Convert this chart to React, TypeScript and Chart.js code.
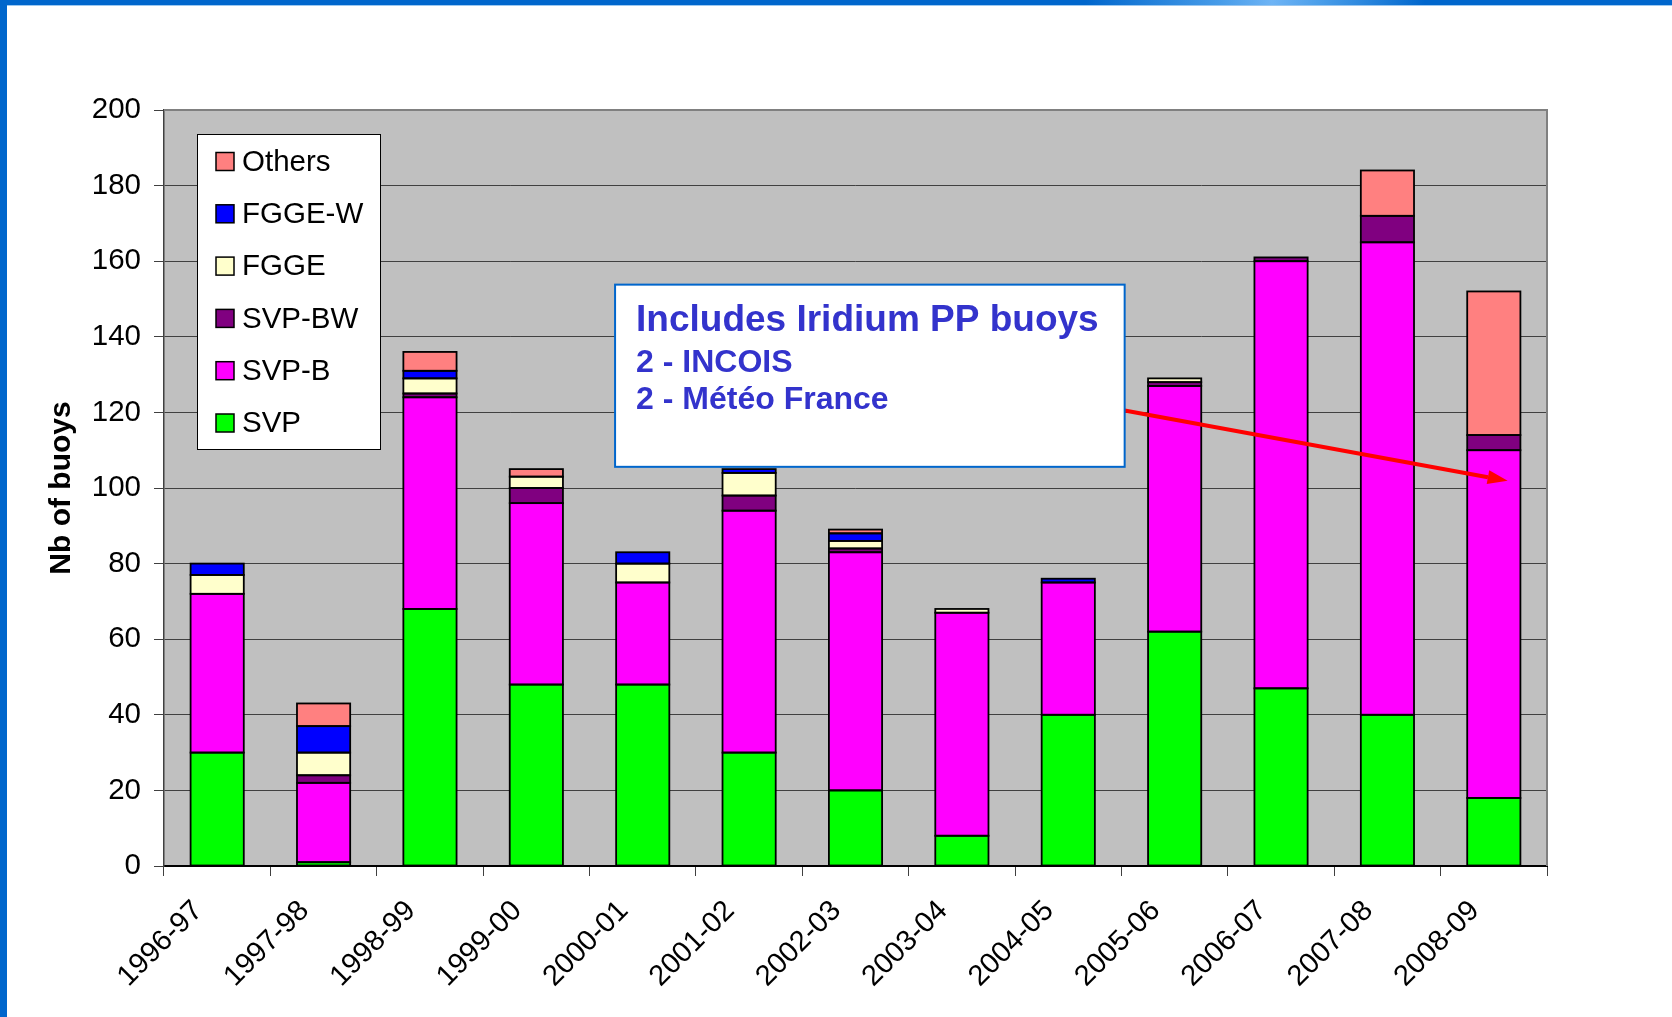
import React, { useEffect, useRef } from 'react';
import { Chart, registerables } from 'chart.js';

Chart.register(...registerables);

const categories = ['1996-97', '1997-98', '1998-99', '1999-00', '2000-01', '2001-02', '2002-03', '2003-04', '2004-05', '2005-06', '2006-07', '2007-08', '2008-09'];

const svp = [30, 1, 68, 48, 48, 30, 20, 8, 40, 62, 47, 40, 18];
const svpB = [42, 21, 56, 48, 27, 64, 63, 59, 35, 65, 113, 125, 92];
const svpBW = [0, 2, 1, 4, 0, 4, 1, 0, 0, 1, 1, 7, 4];
const fgge = [5, 6, 4, 3, 5, 6, 2, 1, 0, 1, 0, 0, 0];
const fggeW = [3, 7, 2, 0, 3, 1, 2, 0, 1, 0, 0, 0, 0];
const others = [0, 6, 5, 2, 0, 0, 1, 0, 0, 0, 0, 12, 38];

const seriesNames = ['SVP', 'SVP-B', 'SVP-BW', 'FGGE', 'FGGE-W', 'Others'];
const seriesValues = [svp, svpB, svpBW, fgge, fggeW, others];
const seriesColors = ['#00FF00', '#FF00FF', '#800080', '#FFFFCC', '#0000FF', '#FF8080'];

const yMin = 0;
const yMax = 200;
const yStep = 20;
const yTitle = 'Nb of buoys';

const noteLines = ['Includes Iridium PP buoys', '2 - INCOIS', '2 - Météo France'];
// annotation box and arrow expressed in data coordinates (category index, value)
const noteBox = { x0: 3.74, x1: 8.53, yTop: 153.8, yBottom: 105.6 };
const arrowFrom = { x: 8.53, y: 120.5 };
const arrowTo = { x: 12.13, y: 101.9 };

const FONT = '"Liberation Sans", Arial, Helvetica, sans-serif';

const decorPlugin = {
  id: 'decor',
  beforeDraw(chart: any) {
    const { ctx, chartArea: a } = chart;
    ctx.save();
    ctx.fillStyle = '#C0C0C0';
    ctx.fillRect(a.left, a.top, a.right - a.left, a.bottom - a.top);
    ctx.restore();
  },
  beforeDatasetsDraw(chart: any) {
    const { ctx, chartArea: a } = chart;
    ctx.save();
    ctx.strokeStyle = '#808080';
    ctx.lineWidth = 2;
    ctx.beginPath();
    ctx.moveTo(a.left, a.top);
    ctx.lineTo(a.right, a.top);
    ctx.lineTo(a.right, a.bottom);
    ctx.stroke();
    ctx.restore();
  },
  afterDatasetsDraw(chart: any) {
    // uniform black outlines around every bar segment
    const { ctx } = chart;
    ctx.save();
    ctx.strokeStyle = '#000000';
    ctx.lineWidth = 1.8;
    chart.data.datasets.forEach((ds: any, di: number) => {
      const meta = chart.getDatasetMeta(di);
      meta.data.forEach((el: any, i: number) => {
        if (ds.data[i] == null) return;
        const w = el.width;
        const top = Math.min(el.y, el.base);
        const h = Math.abs(el.base - el.y);
        ctx.strokeRect(el.x - w / 2, top, w, h);
      });
    });
    ctx.restore();
  },
  afterDraw(chart: any) {
    const { ctx, chartArea: a, scales } = chart;
    const xs = scales.x;
    const ys = scales.y;
    ctx.save();

    // Legend
    const lx = a.left + 33;
    const ly = a.top + 24;
    const lw = 183;
    const lh = 315;
    ctx.fillStyle = '#FFFFFF';
    ctx.fillRect(lx, ly, lw, lh);
    ctx.strokeStyle = '#000000';
    ctx.lineWidth = 1;
    ctx.strokeRect(lx + 0.5, ly + 0.5, lw, lh);
    ctx.font = `29.5px ${FONT}`;
    ctx.textBaseline = 'middle';
    ctx.textAlign = 'left';
    for (let k = 0; k < seriesNames.length; k++) {
      const idx = seriesNames.length - 1 - k;
      const cy = ly + 27.5 + k * 52.3;
      ctx.fillStyle = seriesColors[idx];
      ctx.fillRect(lx + 19, cy - 9, 18, 18);
      ctx.strokeStyle = '#000';
      ctx.lineWidth = 1.5;
      ctx.strokeRect(lx + 19, cy - 9, 18, 18);
      ctx.fillStyle = '#000';
      ctx.fillText(seriesNames[idx], lx + 45, cy + 1);
    }

    // Arrow
    const ax0 = xs.getPixelForValue(arrowFrom.x);
    const ay0 = ys.getPixelForValue(arrowFrom.y);
    const ax1 = xs.getPixelForValue(arrowTo.x);
    const ay1 = ys.getPixelForValue(arrowTo.y);
    const ang = Math.atan2(ay1 - ay0, ax1 - ax0);
    const headLen = 20;
    const headHalf = 7;
    const bx = ax1 - headLen * Math.cos(ang);
    const by = ay1 - headLen * Math.sin(ang);
    ctx.strokeStyle = '#FF0000';
    ctx.lineWidth = 4;
    ctx.beginPath();
    ctx.moveTo(ax0, ay0);
    ctx.lineTo(bx, by);
    ctx.stroke();
    ctx.fillStyle = '#FF0000';
    ctx.beginPath();
    ctx.moveTo(ax1, ay1);
    ctx.lineTo(bx - headHalf * Math.sin(ang), by + headHalf * Math.cos(ang));
    ctx.lineTo(bx + headHalf * Math.sin(ang), by - headHalf * Math.cos(ang));
    ctx.closePath();
    ctx.fill();

    // Annotation box
    const bx0 = xs.getPixelForValue(noteBox.x0);
    const bx1 = xs.getPixelForValue(noteBox.x1);
    const by0 = ys.getPixelForValue(noteBox.yTop);
    const by1 = ys.getPixelForValue(noteBox.yBottom);
    ctx.fillStyle = '#FFFFFF';
    ctx.fillRect(bx0, by0, bx1 - bx0, by1 - by0);
    ctx.strokeStyle = '#0066CC';
    ctx.lineWidth = 2;
    ctx.strokeRect(bx0, by0, bx1 - bx0, by1 - by0);
    ctx.fillStyle = '#3333CC';
    ctx.textBaseline = 'alphabetic';
    ctx.font = `bold 37px ${FONT}`;
    ctx.fillText(noteLines[0], bx0 + 21, by0 + 46);
    ctx.font = `bold 32px ${FONT}`;
    ctx.fillText(noteLines[1], bx0 + 21, by0 + 87);
    ctx.fillText(noteLines[2], bx0 + 21, by0 + 124);

    ctx.restore();
  },
};

export default function App() {
  const canvasRef = useRef<HTMLCanvasElement | null>(null);

  useEffect(() => {
    const canvas = canvasRef.current;
    if (!canvas) return;
    const chart = new Chart(canvas, {
      type: 'bar',
      data: {
        labels: categories,
        datasets: seriesNames.map((name, i) => ({
          label: name,
          data: seriesValues[i].map((v) => (v === 0 ? null : v)),
          backgroundColor: seriesColors[i],
          borderWidth: 0,
          barPercentage: 0.5,
          categoryPercentage: 1,
        })),
      },
      options: {
        responsive: false,
        animation: false,
        devicePixelRatio: 1,
        layout: { padding: { top: 110, right: 125, left: 0, bottom: 0 } },
        plugins: {
          legend: { display: false },
          tooltip: { enabled: false },
          title: { display: false },
        },
        scales: {
          x: {
            stacked: true,
            afterFit: (s: any) => {
              s.height = 151;
            },
            grid: {
              display: true,
              drawOnChartArea: false,
              drawTicks: true,
              tickLength: 10,
              tickColor: '#404040',
              offset: true,
            },
            border: { display: true, color: '#000000', width: 2 },
            ticks: {
              autoSkip: false,
              maxRotation: 45,
              minRotation: 45,
              padding: 18,
              labelOffset: -19,
              color: '#000000',
              font: { family: FONT, size: 29 },
            },
          },
          y: {
            stacked: true,
            min: yMin,
            max: yMax,
            afterFit: (s: any) => {
              s.width = 164;
            },
            grid: {
              color: '#404040',
              lineWidth: 1,
              drawTicks: true,
              tickLength: 10,
              tickColor: '#404040',
            },
            border: { display: true, color: '#404040', width: 1.5 },
            ticks: {
              stepSize: yStep,
              padding: 13,
              color: '#000000',
              font: { family: FONT, size: 29.5 },
            },
            title: {
              display: true,
              text: yTitle,
              color: '#000000',
              padding: { top: 44, bottom: 0 },
              font: { family: FONT, size: 30, weight: 'bold' },
            },
          },
        },
      },
      plugins: [decorPlugin],
    });
    return () => chart.destroy();
  }, []);

  return (
    <div style={{ position: 'fixed', left: 0, top: 0, width: 1672, height: 1017, background: '#FFFFFF', overflow: 'hidden' }}>
      <canvas ref={canvasRef} width={1672} height={1017} style={{ position: 'absolute', left: 0, top: 0, width: 1672, height: 1017 }} />
      <div style={{ position: 'absolute', left: 0, top: 0, width: 1672, height: 5, background: '#0066CC' }} />
      <div style={{ position: 'absolute', left: 1085, top: 0, width: 340, height: 5, background: 'linear-gradient(90deg, rgba(90,170,240,0) 0%, rgba(90,170,240,0.8) 40%, rgba(110,180,245,1) 55%, rgba(90,170,240,0.8) 70%, rgba(90,170,240,0) 100%)' }} />
      <div style={{ position: 'absolute', left: 0, top: 5, width: 1672, height: 1, background: '#9CC8F0' }} />
      <div style={{ position: 'absolute', left: 0, top: 0, width: 7, height: 1017, background: '#0066CC' }} />
    </div>
  );
}
